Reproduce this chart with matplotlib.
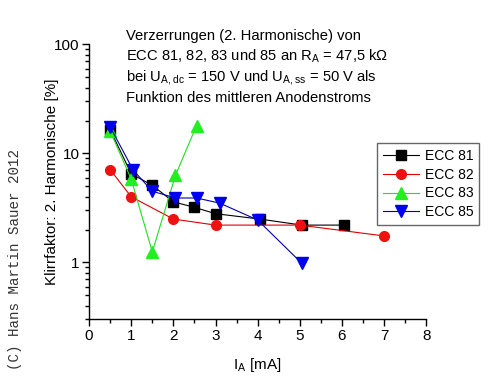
import matplotlib
matplotlib.use("Agg")
import matplotlib.pyplot as plt
from matplotlib.ticker import LogLocator, MultipleLocator, FixedLocator

plt.rcParams['font.family'] = ['Liberation Sans', 'DejaVu Sans']

# data
ecc81_x = [0.5, 1.0, 1.5, 2.0, 2.5, 3.0, 4.05, 5.05, 6.05]
ecc81_y = [16.5, 6.5, 5.1, 3.6, 3.2, 2.8, 2.5, 2.2, 2.2]
ecc82_x = [0.5, 1.0, 2.0, 3.0, 5.0, 7.0]
ecc82_y = [7.1, 4.0, 2.5, 2.2, 2.2, 1.75]
ecc83_x = [0.5, 1.0, 1.5, 2.05, 2.55]
ecc83_y = [16.0, 5.8, 1.25, 6.3, 18.0]
ecc85_x = [0.5, 1.05, 1.5, 2.05, 2.55, 3.1, 4.0, 5.05]
ecc85_y = [17.5, 7.0, 4.5, 3.9, 3.9, 3.5, 2.45, 0.98]

fig = plt.figure(figsize=(4.95, 3.83), dpi=100)
ax = fig.add_axes([0.18, 0.166, 0.681, 0.718])

ax.plot(ecc81_x, ecc81_y, '-', color='#000000', lw=0.8, marker='s', ms=6.5,
        mfc='black', mec='black', label='ECC 81')
ax.plot(ecc82_x, ecc82_y, '-', color='#e00000', lw=0.8, marker='o', ms=7,
        mfc='#ee1111', mec='#ee1111', label='ECC 82')
ax.plot(ecc83_x, ecc83_y, '-', color='#22dd22', lw=0.8, marker='^', ms=8,
        mfc='#22ee22', mec='#22ee22', label='ECC 83')
ax.plot(ecc85_x, ecc85_y, '-', color='#0000aa', lw=0.8, marker='v', ms=8,
        mfc='#0000ee', mec='#0000ee', label='ECC 85')

ax.set_yscale('log')
ax.set_xlim(0, 8)
ax.set_ylim(0.3, 100)
ax.xaxis.set_major_locator(MultipleLocator(1))
ax.xaxis.set_minor_locator(MultipleLocator(0.5))
ax.yaxis.set_major_locator(FixedLocator([1, 10, 100]))
ax.yaxis.set_major_formatter(matplotlib.ticker.FuncFormatter(lambda v, p: '%g' % v))
ax.yaxis.set_minor_locator(LogLocator(base=10, subs=range(2, 10)))
ax.yaxis.set_minor_formatter(matplotlib.ticker.NullFormatter())

for s in ['top', 'right']:
    ax.spines[s].set_visible(False)
for s in ['left', 'bottom']:
    ax.spines[s].set_linewidth(1.0)
ax.tick_params(which='major', direction='out', length=5, width=1, labelsize=11, pad=2)
ax.tick_params(which='minor', direction='out', length=3, width=1)

ax.set_xlabel('I$_\\mathregular{A}$ [mA]', fontsize=11, labelpad=9)
ax.set_ylabel('Klirrfaktor: 2. Harmonische [%]', fontsize=11)
ax.yaxis.set_label_coords(-0.09, 0.5)

fig.text(0.255, 0.924,
         'Verzerrungen (2. Harmonische) von\n'
         'ECC 81, 82, 83 und 85 an R$_\\mathregular{A}$ = 47,5 k\u03a9\n'
         'bei U$_\\mathregular{A,dc}$ = 150 V und U$_\\mathregular{A,ss}$ = 50 V als\n'
         'Funktion des mittleren Anodenstroms',
         fontsize=10.6, va='top', ha='left', linespacing=1.3)

leg = ax.legend(loc='upper left', bbox_to_anchor=(0.855, 0.641), fontsize=10,
                frameon=True, fancybox=False, framealpha=1, borderpad=0.4,
                borderaxespad=0, handlelength=2.6, labelspacing=0.35,
                handletextpad=0.4)
leg.get_frame().set_edgecolor('#666666')
leg.get_frame().set_linewidth(1.0)

fig.text(0.03, 0.033, '(C) Hans Martin Sauer 2012', rotation=90, fontsize=10.2,
         family='Liberation Mono', color='#333333', ha='center', va='bottom')

fig.savefig('out.png', dpi=100)
